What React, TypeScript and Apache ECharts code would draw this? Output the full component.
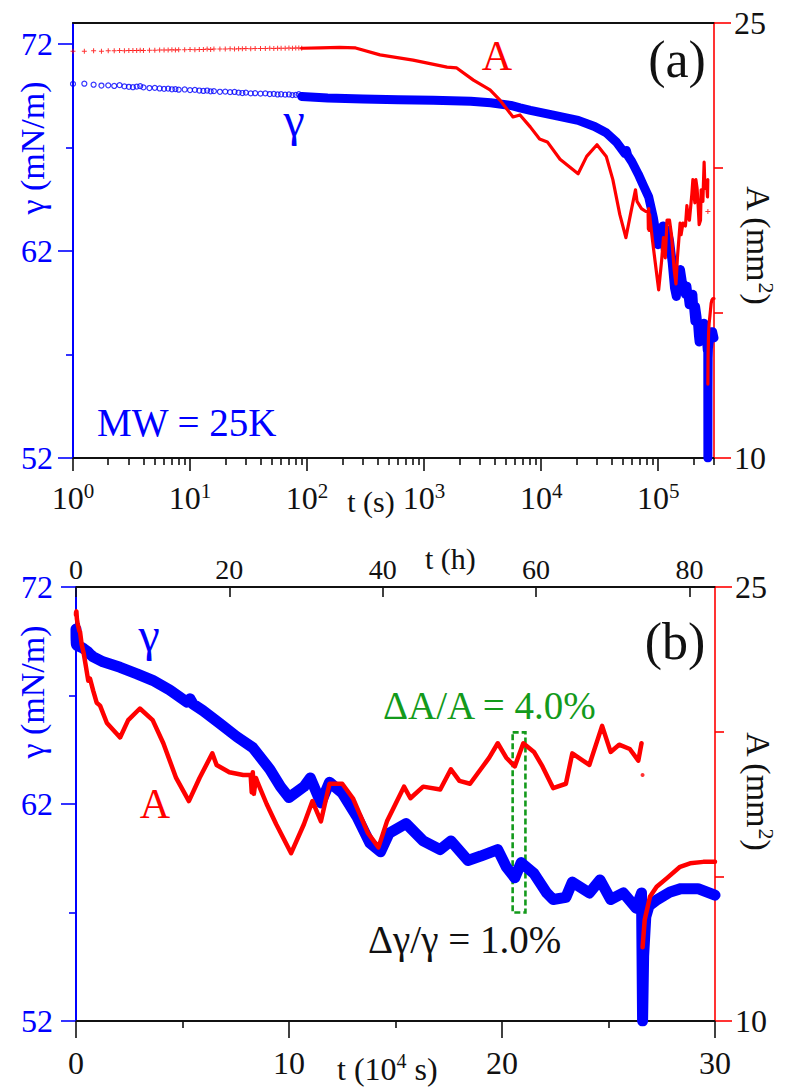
import React, { useEffect, useRef } from 'react';
import * as echarts from 'echarts';

const FONT = '"Liberation Serif", "DejaVu Serif", serif';
const BLUE = '#0000ff';
const RED = '#ff0000';
const GREEN = '#139a1b';
const INK = '#111111';

// ---- tick values ----
const gammaMajorA = [52, 62, 72];
const gammaMinorA = [57, 67];
const decadeTicks = [1, 10, 100, 1000, 10000, 100000];
const hourTicks = [0, 20, 40, 60, 80];
const logMinorTicks = decadeTicks
  .flatMap((d) => [2, 3, 4, 5, 6, 7, 8, 9].map((m) => m * d))
  .filter((v) => v <= 3e5);

// ---- early readings (t in s), drawn as open circles / crosses on the log panel ----
const tEarly = [
  1, 1.25, 1.5, 1.75, 2, 2.25, 2.5, 2.75, 3, 3.25,
  3.5, 3.75, 4, 4.5, 5, 5.5, 6, 6.5, 7, 7.5,
  8, 9, 10, 11, 12, 13, 14, 15, 16, 18,
  20, 22, 24, 26, 28, 30, 33, 36, 40, 44,
  48, 52, 56, 60, 65, 70, 75, 80, 85, 90,
];
const gammaEarly = [
  70.06, 70.07, 70.02, 69.98, 69.99, 69.96, 70.0, 69.94, 69.92, 69.9,
  69.93, 69.95, 69.89, 69.86, 69.87, 69.84, 69.82, 69.83, 69.8, 69.81,
  69.78, 69.79, 69.76, 69.77, 69.74, 69.72, 69.74, 69.7, 69.71, 69.68,
  69.69, 69.66, 69.67, 69.64, 69.62, 69.64, 69.6, 69.61, 69.59, 69.6,
  69.57, 69.58, 69.55, 69.56, 69.54, 69.55, 69.52, 69.53, 69.56, 69.5,
];
const areaEarly = [
  24.03, 24.03, 24.04, 24.03, 24.04, 24.04, 24.05, 24.04, 24.05, 24.05,
  24.05, 24.06, 24.05, 24.06, 24.06, 24.07, 24.07, 24.07, 24.08, 24.07,
  24.08, 24.08, 24.09, 24.08, 24.09, 24.09, 24.1, 24.09, 24.1, 24.1,
  24.1, 24.11, 24.1, 24.11, 24.11, 24.12, 24.11, 24.12, 24.12, 24.12,
  24.13, 24.12, 24.13, 24.13, 24.13, 24.14, 24.13, 24.14, 24.14, 24.13,
];

// ---- main records: [t (s), value] ----
const gammaMain: [number, number][] = [
  [90, 69.45], [150, 69.38], [300, 69.33], [600, 69.3], [1200, 69.27],
  [2500, 69.22], [3700, 69.15], [5500, 69.02], [6600, 68.9], [8100, 68.78],
  [12700, 68.55], [20700, 68.3], [28600, 68.0], [36000, 67.7], [44000, 67.25],
  [52000, 66.7], [53500, 66.85], [55000, 66.6], [59600, 66.3], [67600, 65.7],
  [75500, 65.1], [83000, 64.6], [91000, 63.6], [96000, 62.8], [100000, 62.3],
  [107000, 62.8], [110000, 63.2], [115000, 62.05], [119000, 63.0], [125000, 62.5],
  [132000, 61.4], [138000, 60.2], [143000, 59.8], [147000, 60.65], [155000, 61.1],
  [163000, 60.3], [171000, 59.9], [176000, 60.3], [184000, 59.4], [190000, 59.6],
  [198000, 59.9], [202000, 59.1], [206000, 58.6], [209000, 59.3], [215000, 58.8],
  [221000, 57.9], [224000, 57.6], [230000, 57.7], [233000, 58.4], [241000, 57.9],
  [246000, 58.5], [251000, 57.6], [257000, 57.9], [263000, 57.2], [265500, 57.9],
  [266000, 52.0], [266500, 55.0], [267500, 56.8], [269000, 57.3], [273000, 57.6],
  [279000, 57.95], [284000, 58.1], [292000, 58.1], [300000, 57.8],
];

const areaMain: [number, number][] = [
  [90, 24.13], [130, 24.14], [190, 24.16], [260, 24.14], [420, 23.9],
  [805, 23.72], [1570, 23.48], [1900, 23.45], [2640, 23.03], [3660, 22.69],
  [4450, 22.34], [5750, 21.76], [6600, 21.83], [8100, 21.41], [9700, 21.0],
  [11300, 20.9], [14500, 20.3], [20700, 19.8], [24500, 20.4], [30000, 20.8],
  [36000, 20.4], [41000, 19.6], [47000, 18.4], [53000, 17.6], [58000, 18.4],
  [64000, 19.25], [66000, 18.85], [72000, 18.6], [78500, 18.5], [82000, 18.5],
  [82500, 17.9], [83000, 18.6], [83500, 17.85], [84500, 18.4], [85500, 18.2],
  [89500, 17.5], [94000, 16.8], [101000, 15.8], [107000, 16.8], [111000, 17.6],
  [115000, 16.9], [119000, 18.2], [125000, 18.2], [130000, 17.7], [137000, 16.5],
  [142000, 16.0], [146000, 16.9], [150000, 17.5], [154000, 18.1], [157000, 17.7],
  [163000, 18.1], [171000, 18.0], [176000, 18.7], [180000, 18.3], [185000, 18.2],
  [190000, 18.7], [194000, 19.1], [198000, 19.6], [202000, 19.1], [206000, 18.8],
  [210000, 19.6], [215000, 19.3], [219000, 18.8], [224000, 18.05], [230000, 18.2],
  [233000, 19.25], [238000, 19.0], [241000, 18.85], [247000, 20.2], [251000, 19.3],
  [255000, 19.55], [260000, 19.4], [264000, 19.0], [265500, 19.6],
];

const areaRecovered: [number, number][] = [
  [266000, 12.55], [267000, 13.5], [269500, 14.3], [272600, 14.64], [277300, 14.93],
  [283600, 15.33], [288300, 15.45], [294500, 15.5], [300000, 15.5],
];

const areaStray: [number, number] = [266000, 18.5];

// dashed window, t in 10^4 s and γ in mN/m
const windowT = [20.5, 21.1];
const windowGamma = [65.3, 57.0];

// ---- derived series data ----
const gammaEarlyPts = tEarly.map((t, i) => [t, gammaEarly[i]]);
const areaEarlyPts = tEarly.map((t, i) => [t, areaEarly[i]]);
const toTenK = (pts: number[][]) => pts.map(([t, v]) => [t / 1e4, v]);
const gammaLinear = toTenK([...gammaEarlyPts, ...gammaMain]);
const areaLinear = toTenK([...areaEarlyPts, ...areaMain]);
const areaRecLinear = toTenK(areaRecovered);
const strayLinear = toTenK([areaStray]);

const PLUS = 'path://M4,0H6V4H10V6H6V10H4V6H0V4H4Z';

const tickStyle = (color: string) => ({ color, width: 1.6 });
const lineAxis = (color: string, width = 2) => ({ show: true, onZero: false, lineStyle: { color, width } });
const off = { show: false };

const label = (
  text: string, x: number, y: number, size: number, fill: string,
  opts: { align?: string; rot?: number; rich?: any } = {}
) => ({
  type: 'text',
  x,
  y,
  rotation: opts.rot ?? 0,
  silent: true,
  z: 100,
  style: {
    text,
    fill,
    fontSize: size,
    fontFamily: FONT,
    align: opts.align ?? 'center',
    verticalAlign: 'middle',
    rich: opts.rich,
  },
});

const supRich = (size: number, sup: number, fill: string) => ({
  n: { fontSize: size, lineHeight: size + 4, fontFamily: FONT, fill, color: fill },
  s: { fontSize: sup, lineHeight: sup, fontFamily: FONT, fill, color: fill, verticalAlign: 'top' },
});

const option = {
  animation: false,
  backgroundColor: '#ffffff',
  textStyle: { fontFamily: FONT },
  grid: [
    { left: 73, top: 23, width: 641, height: 435 },
    { left: 76, top: 587, width: 639, height: 434 },
  ],
  xAxis: [
    {
      // (a) time, logarithmic
      type: 'log', logBase: 10, gridIndex: 0, position: 'bottom', min: 1, max: 3e5,
      axisLine: lineAxis(INK),
      axisTick: { show: true, customValues: decadeTicks, length: 13, lineStyle: tickStyle(INK) },
      axisLabel: {
        show: true,
        customValues: decadeTicks,
        margin: 22,
        fontFamily: FONT,
        formatter: (v: number) => `{b|10}{s|${Math.round(Math.log10(v))}}`,
        rich: {
          b: { fontSize: 32, lineHeight: 36, fontFamily: FONT, color: INK },
          s: { fontSize: 21, lineHeight: 21, fontFamily: FONT, color: INK, verticalAlign: 'top' },
        },
      },
      splitLine: off, minorTick: off, minorSplitLine: off,
    },
    {
      // (a) minor log ticks
      type: 'log', logBase: 10, gridIndex: 0, position: 'bottom', min: 1, max: 3e5,
      axisLine: off,
      axisTick: { show: true, customValues: logMinorTicks, length: 7, lineStyle: tickStyle(INK) },
      axisLabel: off, splitLine: off,
    },
    {
      // (a) top frame
      type: 'log', logBase: 10, gridIndex: 0, position: 'top', min: 1, max: 3e5,
      axisLine: lineAxis(INK), axisTick: off, axisLabel: off, splitLine: off,
    },
    {
      // (b) time in 10^4 s
      type: 'value', gridIndex: 1, position: 'bottom', min: 0, max: 30, interval: 10,
      axisLine: lineAxis(INK),
      axisTick: { show: true, length: 17, lineStyle: tickStyle(INK) },
      minorTick: { show: true, splitNumber: 2, length: 7, lineStyle: tickStyle(INK) },
      axisLabel: { show: true, fontSize: 32, fontFamily: FONT, color: INK, margin: 26 },
      splitLine: off, minorSplitLine: off,
    },
    {
      // (b) time in hours
      type: 'value', gridIndex: 1, position: 'top', min: 0, max: 300000 / 3600,
      axisLine: lineAxis(INK),
      axisTick: { show: true, inside: true, customValues: hourTicks, length: 10, lineStyle: tickStyle(INK) },
      axisLabel: { show: true, customValues: hourTicks, fontSize: 28, fontFamily: FONT, color: INK, margin: 4 },
      splitLine: off, minorTick: off,
    },
  ],
  yAxis: [
    {
      // (a) γ
      type: 'value', gridIndex: 0, position: 'left', min: 52, max: 73,
      axisLine: lineAxis(BLUE),
      axisTick: { show: true, customValues: gammaMajorA, length: 15, lineStyle: tickStyle(BLUE) },
      axisLabel: { show: true, customValues: gammaMajorA, fontSize: 32, fontFamily: FONT, color: BLUE, margin: 20 },
      splitLine: off, minorTick: off,
    },
    {
      // (a) γ minor ticks
      type: 'value', gridIndex: 0, position: 'left', min: 52, max: 73,
      axisLine: off,
      axisTick: { show: true, customValues: gammaMinorA, length: 7, lineStyle: tickStyle(BLUE) },
      axisLabel: off, splitLine: off,
    },
    {
      // (a) A
      type: 'value', gridIndex: 0, position: 'right', min: 10, max: 25, interval: 15,
      axisLine: lineAxis(RED, 1.6),
      axisTick: { show: true, length: 17, lineStyle: tickStyle(RED) },
      minorTick: { show: true, splitNumber: 3, length: 9, lineStyle: tickStyle(RED) },
      axisLabel: { show: true, fontSize: 32, fontFamily: FONT, color: INK, margin: 20 },
      splitLine: off, minorSplitLine: off,
    },
    {
      // (b) γ
      type: 'value', gridIndex: 1, position: 'left', min: 52, max: 72, interval: 10,
      axisLine: lineAxis(BLUE),
      axisTick: { show: true, length: 15, lineStyle: tickStyle(BLUE) },
      minorTick: { show: true, splitNumber: 2, length: 7, lineStyle: tickStyle(BLUE) },
      axisLabel: { show: true, fontSize: 32, fontFamily: FONT, color: BLUE, margin: 23 },
      splitLine: off, minorSplitLine: off,
    },
    {
      // (b) A
      type: 'value', gridIndex: 1, position: 'right', min: 10, max: 25, interval: 15,
      axisLine: lineAxis(RED, 1.6),
      axisTick: { show: true, length: 17, lineStyle: tickStyle(RED) },
      minorTick: { show: true, splitNumber: 3, length: 9, lineStyle: tickStyle(RED) },
      axisLabel: { show: true, fontSize: 32, fontFamily: FONT, color: INK, margin: 20 },
      splitLine: off, minorSplitLine: off,
    },
  ],
  series: [
    // ---- panel (a) ----
    {
      name: 'γ', type: 'line', xAxisIndex: 0, yAxisIndex: 0, data: gammaMain, silent: true,
      showSymbol: false, lineStyle: { color: BLUE, width: 9, cap: 'round', join: 'round' }, z: 2,
    },
    {
      name: 'γ early', type: 'scatter', xAxisIndex: 0, yAxisIndex: 0, data: gammaEarlyPts, silent: true,
      symbol: 'circle', symbolSize: 5,
      itemStyle: { color: 'rgba(255,255,255,0)', borderColor: BLUE, borderWidth: 1.2 }, z: 3,
    },
    {
      name: 'A', type: 'line', xAxisIndex: 0, yAxisIndex: 2, data: areaMain, silent: true,
      showSymbol: false, lineStyle: { color: RED, width: 3.2, cap: 'round', join: 'round' }, z: 4,
    },
    {
      name: 'A after', type: 'line', xAxisIndex: 0, yAxisIndex: 2, data: areaRecovered, silent: true,
      showSymbol: false, lineStyle: { color: RED, width: 3.2, cap: 'round', join: 'round' }, z: 4,
    },
    {
      name: 'A early', type: 'scatter', xAxisIndex: 0, yAxisIndex: 2, data: areaEarlyPts, silent: true,
      symbol: PLUS, symbolSize: 5, itemStyle: { color: RED }, z: 4,
    },
    {
      name: 'A stray', type: 'scatter', xAxisIndex: 0, yAxisIndex: 2, data: [areaStray], silent: true,
      symbol: PLUS, symbolSize: 5, itemStyle: { color: RED }, z: 4,
    },
    // ---- panel (b) ----
    {
      name: 'γ linear', type: 'line', xAxisIndex: 3, yAxisIndex: 3, data: gammaLinear, silent: true,
      showSymbol: false, lineStyle: { color: BLUE, width: 11, cap: 'round', join: 'round' }, z: 2,
    },
    {
      name: 'A linear', type: 'line', xAxisIndex: 3, yAxisIndex: 4, data: areaLinear, silent: true,
      showSymbol: false, lineStyle: { color: RED, width: 4.5, cap: 'round', join: 'round' }, z: 4,
    },
    {
      name: 'A linear after', type: 'line', xAxisIndex: 3, yAxisIndex: 4, data: areaRecLinear, silent: true,
      showSymbol: false, lineStyle: { color: RED, width: 4.5, cap: 'round', join: 'round' }, z: 4,
    },
    {
      name: 'A linear stray', type: 'scatter', xAxisIndex: 3, yAxisIndex: 4, data: strayLinear, silent: true,
      symbol: 'circle', symbolSize: 4, itemStyle: { color: RED }, z: 4,
    },
    {
      name: 'window', type: 'line', xAxisIndex: 3, yAxisIndex: 3, data: [], silent: true, z: 10,
      markArea: {
        silent: true,
        itemStyle: { color: 'rgba(0,0,0,0)', borderColor: GREEN, borderWidth: 2.6, borderType: [6, 3] },
        data: [[{ coord: [windowT[0], windowGamma[0]] }, { coord: [windowT[1], windowGamma[1]] }]],
      },
    },
  ],
  graphic: [
    // panel (a)
    label('γ (mN/m)', 32, 148, 34, BLUE, { rot: Math.PI / 2 }),
    label('{n|A (mm}{s|2}{n|)}', 758, 245, 34, INK, { rot: -Math.PI / 2, rich: supRich(34, 22, INK) }),
    label('(a)', 677, 59, 52, INK),
    label('A', 497, 56, 42, RED),
    label('γ', 294, 119, 48, BLUE),
    label('MW = 25K', 97, 422, 39, BLUE, { align: 'left' }),
    label('t (s)', 371, 501, 30, INK),
    // panel (b)
    label('γ (mN/m)', 32, 692, 34, BLUE, { rot: Math.PI / 2 }),
    label('{n|A (mm}{s|2}{n|)}', 758, 791, 34, INK, { rot: -Math.PI / 2, rich: supRich(34, 22, INK) }),
    label('(b)', 675, 641, 52, INK),
    label('γ', 149, 634, 48, BLUE),
    label('A', 155, 804, 42, RED),
    label('ΔA/A = 4.0%', 383, 705, 39, GREEN, { align: 'left' }),
    label('Δγ/γ = 1.0%', 368, 939, 39, INK, { align: 'left' }),
    label('{n|t (10}{s|4}{n| s)}', 337, 1069, 32, INK, { align: 'left', rich: supRich(32, 20, INK) }),
    label('t (h)', 425, 558, 30, INK, { align: 'left' }),
  ],
};

export default function App() {
  const ref = useRef<HTMLDivElement>(null);
  useEffect(() => {
    if (!ref.current) return;
    const chart = echarts.init(ref.current, null, { renderer: 'svg', width: 785, height: 1092 });
    chart.setOption(option as any);
    return () => chart.dispose();
  }, []);
  return (
    <div
      ref={ref}
      style={{ position: 'absolute', left: 0, top: 0, width: 785, height: 1092, background: '#fff' }}
    />
  );
}
